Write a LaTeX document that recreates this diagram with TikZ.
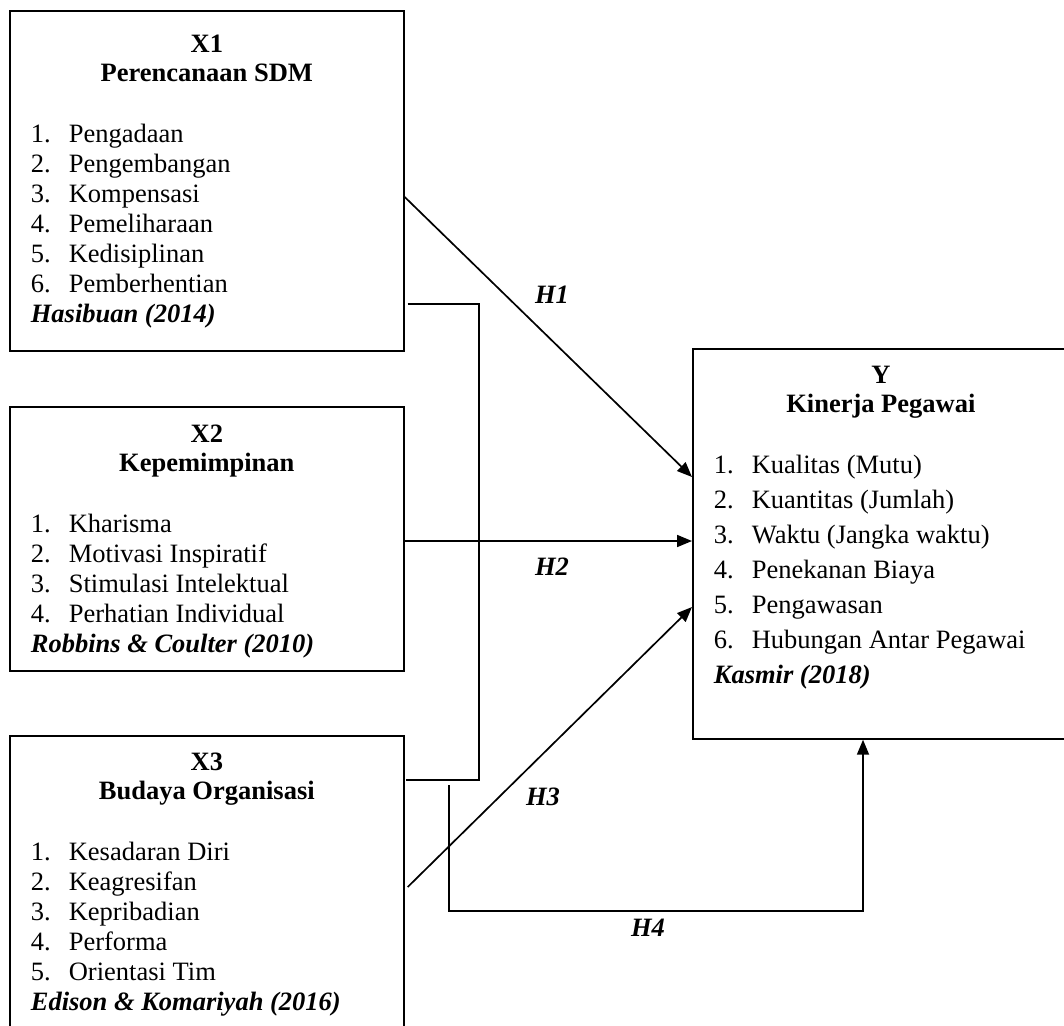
\documentclass[tikz,border=0pt]{standalone}
\usepackage{fontspec}
\setmainfont{Liberation Serif}
\usetikzlibrary{arrows.meta, calc}

% isi kotak: lebar, tinggi, jarak atas, spasi butir, judul, butir
\newcommand{\isi}[6]{%
  \begin{minipage}[t][#2pt][t]{#1pt}
    \setlength{\parindent}{0pt}\fontsize{26.5}{29}\selectfont
    \vspace*{#3pt}
    {\centering\bfseries #5\par}
    \fontsize{26.5}{#4}\selectfont
    \vspace{\dimexpr 61pt-#4pt\relax}
    #6
  \end{minipage}}
\newcommand{\butir}[2]{\hspace*{21pt}\makebox[38pt][l]{#1}#2\par}
\newcommand{\sumber}[1]{\hspace*{21pt}{\bfseries\itshape #1}\par}

\begin{document}
\begin{tikzpicture}[x=1pt, y=-1pt,
    kotak/.style={draw, line width=1.7pt, inner sep=0pt, anchor=north west},
    garis/.style={line width=1.7pt},
    panah/.style={garis, -{Triangle[length=15pt, width=12pt]}},
    hipotesis/.style={font=\fontsize{26.5}{30}\selectfont\bfseries\itshape}]

    \useasboundingbox (0,0) rectangle (1064,1025);
    \clip (0,0) rectangle (1064,1025);

    % variabel bebas
    \node[kotak] (x1) at (9,10) {\isi{394}{340}{24}{30}{X1\\Perencanaan SDM}{%
        \butir{1.}{Pengadaan}
        \butir{2.}{Pengembangan}
        \butir{3.}{Kompensasi}
        \butir{4.}{Pemeliharaan}
        \butir{5.}{Kedisiplinan}
        \butir{6.}{Pemberhentian}
        \sumber{Hasibuan (2014)}}};

    \node[kotak] (x2) at (9,406) {\isi{394}{264}{18}{30}{X2\\Kepemimpinan}{%
        \butir{1.}{Kharisma}
        \butir{2.}{Motivasi Inspiratif}
        \butir{3.}{Stimulasi Intelektual}
        \butir{4.}{Perhatian Individual}
        \sumber{Robbins \& Coulter (2010)}}};

    \node[kotak] (x3) at (9,735) {\isi{394}{310}{17}{30}{X3\\Budaya Organisasi}{%
        \butir{1.}{Kesadaran Diri}
        \butir{2.}{Keagresifan}
        \butir{3.}{Kepribadian}
        \butir{4.}{Performa}
        \butir{5.}{Orientasi Tim}
        \sumber{Edison \& Komariyah (2016)}}};

    % variabel terikat
    \node[kotak] (y) at (692,348) {\isi{376}{390}{17}{35}{Y\\Kinerja Pegawai}{%
        \butir{1.}{Kualitas (Mutu)}
        \butir{2.}{Kuantitas (Jumlah)}
        \butir{3.}{Waktu (Jangka waktu)}
        \butir{4.}{Penekanan Biaya}
        \butir{5.}{Pengawasan}
        \butir{6.}{Hubungan Antar Pegawai}
        \sumber{Kasmir (2018)}}};

    % hubungan
    \draw[panah] ($(x1.north east)+(0,187)$) -- ($(y.north west)+(0,129)$);
    \draw[panah] ($(x2.north east)+(0,135)$) -- ($(y.north west)+(0,193)$);
    \draw[panah] ($(x3.north east)+(3,152)$) -- ($(y.north west)+(0,259)$);

    \draw[garis] ($(x1.south east)+(3,-48)$) -| ($(x3.north east)+(74,45)$)
        -- ($(x3.north east)+(1,45)$);
    \draw[panah] ($(x3.north east)+(44,50)$) |- ($(y.south west)+(171,171)$)
        -- ($(y.south west)+(171,0)$);

    \node[hipotesis] (h1) at (552,295) {H1};
    \node[hipotesis] (h2) at (552,567) {H2};
    \node[hipotesis] (h3) at (543,797) {H3};
    \node[hipotesis] (h4) at (648,928) {H4};

\end{tikzpicture}
\end{document}
